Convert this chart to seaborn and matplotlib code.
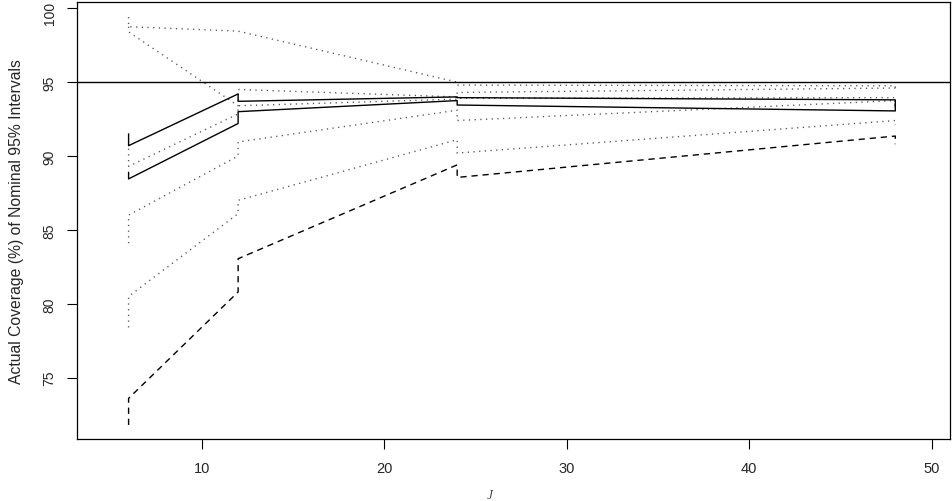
import matplotlib
matplotlib.use("Agg")
import matplotlib.pyplot as plt
import matplotlib.transforms as mtransforms
import seaborn as sns
import pandas as pd

sns.set_style("ticks")
plt.rcParams['font.family'] = ['Liberation Sans', 'DejaVu Sans']

# Number of clusters J; each series has a start/end value at every J
J = [6, 6, 12, 12, 24, 24, 48, 48]

solid_upper = [91.5, 90.7, 94.2, 93.7, 94.0, 93.95, 93.8, 93.4]
solid_lower = [88.9, 88.45, 92.2, 93.0, 93.75, 93.45, 93.05, 93.5]
dashed_low = [71.8, 73.6, 80.8, 83.05, 89.4, 88.55, 91.35, 90.8]
dotted_1 = [99.4, 98.75, 98.45, 98.45, 95.0, 94.8, 94.75, 94.5]
dotted_2 = [98.75, 98.4, 93.4, 94.5, 94.0, 94.3, 94.6, 94.3]
dotted_3 = [90.5, 89.3, 92.85, 93.4, 93.85, 93.9, 93.95, 93.6]
dotted_4 = [84.1, 86.0, 90.0, 90.95, 93.1, 92.4, 93.75, 93.3]
dotted_5 = [78.4, 80.5, 86.1, 87.0, 91.1, 90.2, 92.4, 92.1]

nominal = 95
x_ticks = [10, 20, 30, 40, 50]
y_ticks = [75, 80, 85, 90, 95, 100]

series = [
    (dotted_1, "dot"), (dotted_2, "dot"), (dotted_3, "dot"),
    (dotted_4, "dot"), (dotted_5, "dot"),
    (dashed_low, "dash"), (solid_upper, "solid"), (solid_lower, "solid"),
]

fig = plt.figure(figsize=(9.53, 5.02), dpi=100)
ax = fig.add_axes([0.0813, 0.1235, 0.9969 - 0.0813, 0.9934 - 0.1235])

for vals, kind in series:
    df = pd.DataFrame({"J": J, "cov": vals})
    if kind == "dot":
        kw = dict(color="#555555", linewidth=1.0, linestyle=(0, (0.9, 3.2)))
    elif kind == "dash":
        kw = dict(color="black", linewidth=1.0, linestyle=(0, (4.5, 3.5)))
    else:
        kw = dict(color="black", linewidth=1.0, linestyle="-")
    sns.lineplot(data=df, x="J", y="cov", sort=False, estimator=None, ax=ax, **kw)

ax.axhline(nominal, color="black", linewidth=1.0)

ax.set_xlim(3.2, 51.0)
ax.set_ylim(70.85, 100.4)
ax.set_xticks(x_ticks)
ax.set_yticks(y_ticks)
ax.set_xticklabels([str(t) for t in x_ticks], fontsize=10.5)
ax.set_yticklabels([str(t) for t in y_ticks], fontsize=10, rotation=90, va="center")
ax.tick_params(axis="both", direction="out", length=7, width=0.8, color="black")
ax.tick_params(axis="x", pad=9)
ax.tick_params(axis="y", pad=8)
for s in ax.spines.values():
    s.set_visible(True)
    s.set_linewidth(0.9)
    s.set_color("black")

# nudge the top tick label slightly down so it stays inside the figure
top_lbl = ax.get_yticklabels()[-1]
top_lbl.set_transform(top_lbl.get_transform() +
                      mtransforms.ScaledTranslation(0, -3 / 72, fig.dpi_scale_trans))

ax.set_xlabel("J", fontsize=7, fontstyle="italic", family="DejaVu Serif")
ax.xaxis.set_label_coords(0.473, -0.115)
ax.set_ylabel("Actual Coverage (%) of Nominal 95% Intervals", fontsize=11.3)
ax.yaxis.set_label_coords(-0.061, 0.5)

fig.savefig("out.png", dpi=100)
